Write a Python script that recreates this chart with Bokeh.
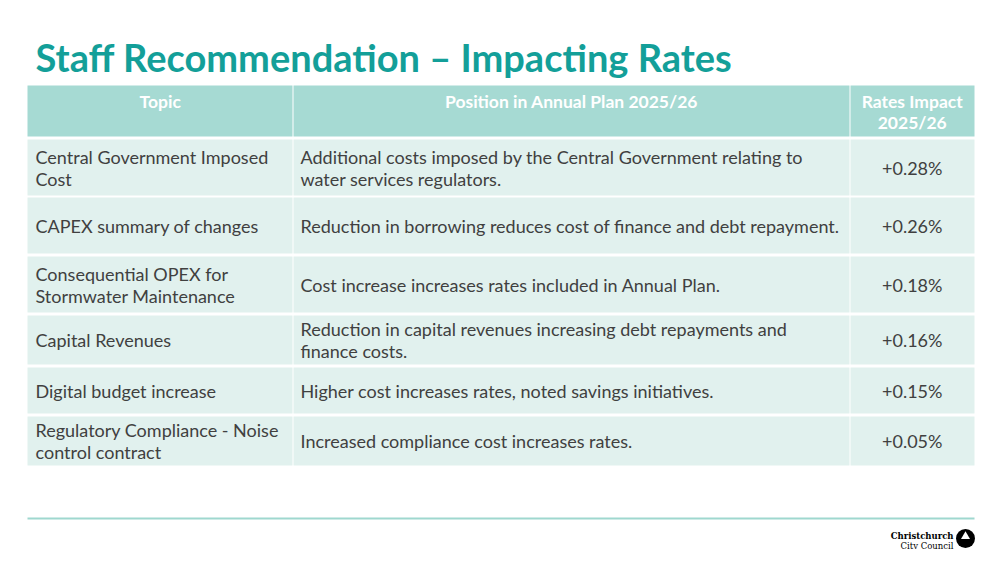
from bokeh.plotting import figure
from bokeh.models import Range1d
from bokeh.core.properties import value
from bokeh.embed import file_html
from bokeh.resources import INLINE

# ---- data ----
title = "Staff Recommendation \u2013 Impacting Rates"
headers = ["Topic", "Position in Annual Plan 2025/26", "Rates Impact\n2025/26"]
topics = [
    "Central Government Imposed\nCost",
    "CAPEX summary of changes",
    "Consequential OPEX for\nStormwater Maintenance",
    "Capital Revenues",
    "Digital budget increase",
    "Regulatory Compliance - Noise\ncontrol contract",
]
positions = [
    "Additional costs imposed by the Central Government relating to\nwater services regulators.",
    "Reduction in borrowing reduces cost of finance and debt repayment.",
    "Cost increase increases rates included in Annual Plan.",
    "Reduction in capital revenues increasing debt repayments and\nfinance costs.",
    "Higher cost increases rates, noted savings initiatives.",
    "Increased compliance cost increases rates.",
]
impacts = [0.28, 0.26, 0.18, 0.16, 0.15, 0.05]
logo_lines = ["Christchurch", "City Council"]

# ---- layout (page pixel coordinates) ----
W, H = 987, 549
FONT = "Lato"
TEAL = "#139f99"
HEAD = "#a6dad3"
CELL = "#e1f1ee"
TXT = "#404040"

col_edges = [27, 292.5, 849.5, 974]
header_top, header_bot = 85, 136
row_tops = [139, 197, 256, 315, 367, 416]
row_bots = [195, 253, 312, 364, 413, 465]

p = figure(width=W, height=H, output_backend="svg", toolbar_location=None,
           x_range=Range1d(0, W), y_range=Range1d(H, 0),
           min_border=0, outline_line_color=None)
p.axis.visible = False
p.grid.visible = False
p.background_fill_color = "white"
p.border_fill_color = "white"

# title
p.text(x=[35], y=[56], text=[title], text_font=value(FONT), text_font_style="bold",
       text_font_size="38px", text_color=TEAL, text_baseline="middle", text_align="left")

# header + body cells
lefts, rights, tops, bots, colors = [], [], [], [], []
for c in range(3):
    lefts.append(col_edges[c] + (0.5 if c else 0))
    rights.append(col_edges[c + 1] - (0.5 if c < 2 else 0))
    tops.append(header_top)
    bots.append(header_bot)
    colors.append(HEAD)
for r in range(len(topics)):
    for c in range(3):
        lefts.append(col_edges[c] + (0.5 if c else 0))
        rights.append(col_edges[c + 1] - (0.5 if c < 2 else 0))
        tops.append(row_tops[r])
        bots.append(row_bots[r])
        colors.append(CELL)
p.quad(left=lefts, right=rights, top=tops, bottom=bots, fill_color=colors, line_color=None)

# header text
hx = [(col_edges[c] + col_edges[c + 1]) / 2 for c in range(3)]
p.text(x=hx, y=[90] * 3, text=headers, text_font=value(FONT), text_font_style="bold",
       text_font_size="17.5px", text_color="white", text_align="center", text_baseline="top",
       text_line_height=1.0)

# body text
ymid = [(t + b) / 2 for t, b in zip(row_tops, row_bots)]
p.text(x=[35] * len(topics), y=ymid, text=topics, text_font=value(FONT),
       text_font_size="18px", text_color=TXT, text_align="left", text_baseline="middle",
       text_line_height=1.0)
p.text(x=[300] * len(positions), y=ymid, text=positions, text_font=value(FONT),
       text_font_size="18px", text_color=TXT, text_align="left", text_baseline="middle",
       text_line_height=1.0)
p.text(x=[hx[2]] * len(impacts), y=ymid, text=["+%.2f%%" % v for v in impacts],
       text_font=value(FONT), text_font_size="18px", text_color=TXT,
       text_align="center", text_baseline="middle")

# bottom rule
p.segment(x0=[27], y0=[518], x1=[974], y1=[518], line_color="#9fd8cf", line_width=2)

# logo
p.text(x=[953], y=[535], text=[logo_lines[0]], text_font=value("DejaVu Serif"),
       text_font_style="bold", text_font_size="8.5px", text_color="#000000",
       text_align="right", text_baseline="alphabetic")
p.text(x=[953], y=[545], text=[logo_lines[1]], text_font=value("DejaVu Serif"),
       text_font_size="8.5px", text_color="#000000", text_align="right", text_baseline="alphabetic")
p.scatter(x=[965], y=[538], size=19, marker="circle", fill_color="#000000", line_color=None)
p.scatter(x=[965], y=[536], size=9, marker="triangle", fill_color="white", line_color=None)

open("out.html", "w").write(file_html(p, INLINE))
